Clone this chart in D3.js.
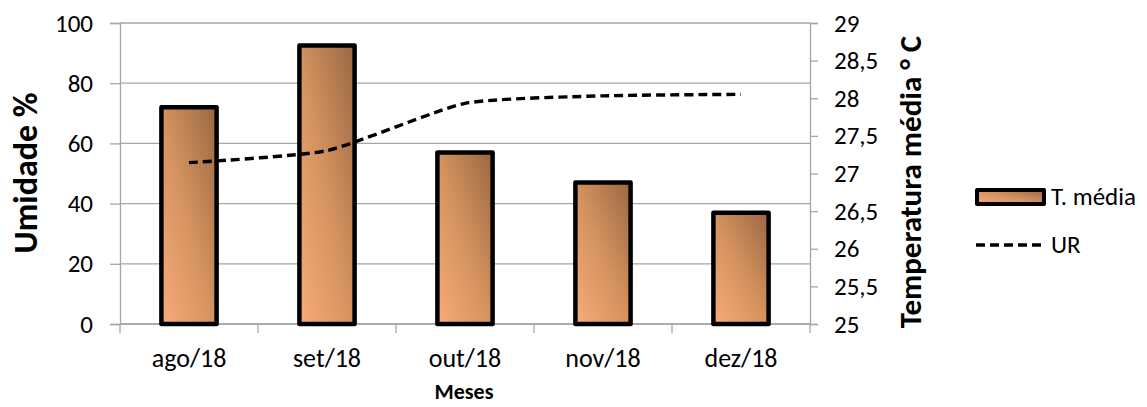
<!DOCTYPE html>
<html>
<head>
<meta charset="utf-8">
<script src="https://cdn.jsdelivr.net/npm/d3@7"></script>
<style>
  html, body { margin: 0; padding: 0; background: #fff; }
  svg { display: block; font-family: Carlito, Calibri, Lato, "Open Sans", sans-serif; }
</style>
</head>
<body>
<svg id="chart" width="1147" height="407"></svg>
<script>
// Monthly data (2018)
const months = ["ago/18", "set/18", "out/18", "nov/18", "dez/18"];
const tMedia = [27.88, 28.7, 27.28, 26.88, 26.48];   // mean temperature, °C (right axis)
const umidade = [53.6, 57.6, 73.3, 75.8, 76.3];       // relative humidity, % (left axis)
const leftTicks = [0, 20, 40, 60, 80, 100];
const rightTicks = [25, 25.5, 26, 26.5, 27, 27.5, 28, 28.5, 29];

const svg = d3.select("#chart");
const plot = { left: 120, right: 810, top: 23, bottom: 324 };
const gridColor = "#a6a6a6";
const tickFont = 25;

const x = d3.scaleBand().domain(months).range([plot.left, plot.right])
  .paddingInner(0.6).paddingOuter(0.3);
const xStep = d3.scaleBand().domain(months).range([plot.left, plot.right]).padding(0);
const yL = d3.scaleLinear().domain([0, 100]).range([plot.bottom, plot.top]);
const yR = d3.scaleLinear().domain([25, 29]).range([plot.bottom, plot.top]);

// Bar gradient
const defs = svg.append("defs");
const grad = defs.append("linearGradient").attr("id", "barFill")
  .attr("x1", 0).attr("y1", 1).attr("x2", 1).attr("y2", 0);
grad.append("stop").attr("offset", "0%").attr("stop-color", "#f8ab7a");
grad.append("stop").attr("offset", "50%").attr("stop-color", "#d3925e");
grad.append("stop").attr("offset", "100%").attr("stop-color", "#996743");

// Horizontal gridlines (left axis)
svg.append("g").selectAll("line").data(leftTicks).join("line")
  .attr("x1", plot.left).attr("x2", plot.right)
  .attr("y1", d => yL(d)).attr("y2", d => yL(d))
  .attr("stroke", gridColor).attr("stroke-width", 1.3);

// Left axis
const gL = svg.append("g").attr("transform", `translate(${plot.left},0)`)
  .call(d3.axisLeft(yL).tickValues(leftTicks).tickSize(10).tickPadding(17));
// Right axis
const gR = svg.append("g").attr("transform", `translate(${plot.right},0)`)
  .call(d3.axisRight(yR).tickValues(rightTicks).tickSize(8).tickPadding(16)
    .tickFormat(d => String(d).replace(".", ",")));
// Bottom axis: ticks at category boundaries
const gB = svg.append("g").attr("transform", `translate(0,${plot.bottom})`);
gB.append("line").attr("x1", plot.left).attr("x2", plot.right)
  .attr("stroke", gridColor).attr("stroke-width", 1.3);
gB.selectAll("line.tk").data(months.concat(["end"])).join("line").attr("class", "tk")
  .attr("x1", (d, i) => i < months.length ? xStep(d) : plot.right)
  .attr("x2", (d, i) => i < months.length ? xStep(d) : plot.right)
  .attr("y1", 0).attr("y2", 9).attr("stroke", gridColor).attr("stroke-width", 1.3);
gB.selectAll("text").data(months).join("text")
  .attr("x", d => x(d) + x.bandwidth() / 2).attr("y", 43)
  .attr("text-anchor", "middle").attr("font-size", 26).attr("fill", "#000").text(d => d);

[gL, gR].forEach(g => {
  g.select(".domain").attr("stroke", gridColor).attr("stroke-width", 1.3);
  g.selectAll(".tick line").attr("stroke", gridColor).attr("stroke-width", 1.3);
  g.selectAll(".tick text").attr("font-size", tickFont).attr("fill", "#000")
    .attr("font-family", "Carlito, Calibri, Lato, sans-serif");
});

// Bars: T. média
svg.append("g").selectAll("rect").data(months).join("rect")
  .attr("x", d => x(d))
  .attr("width", x.bandwidth())
  .attr("y", (d, i) => yR(tMedia[i]))
  .attr("height", (d, i) => yR(25) - yR(tMedia[i]))
  .attr("fill", "url(#barFill)")
  .attr("stroke", "#000").attr("stroke-width", 4.5).attr("stroke-linejoin", "round");

// Line: UR (smoothed, dashed)
const line = d3.line()
  .x((d, i) => x(months[i]) + x.bandwidth() / 2)
  .y(d => yL(d))
  .curve(d3.curveCardinal.tension(0.45));
svg.append("path").datum(umidade).attr("d", line)
  .attr("fill", "none").attr("stroke", "#000").attr("stroke-width", 3.4)
  .attr("stroke-dasharray", "9,5");

// Axis titles
svg.append("text").attr("transform", `translate(37,173) rotate(-90)`)
  .attr("text-anchor", "middle").attr("font-size", 34).attr("font-weight", "bold")
  .text("Umidade %");
svg.append("text").attr("transform", `translate(921,182) rotate(-90)`)
  .attr("text-anchor", "middle").attr("font-size", 31).attr("font-weight", "bold")
  .text("Temperatura média ° C");
svg.append("text").attr("x", 464).attr("y", 399)
  .attr("text-anchor", "middle").attr("font-size", 22).attr("font-weight", "bold")
  .text("Meses");

// Legend
const lg = svg.append("g");
lg.append("rect").attr("x", 977).attr("y", 190).attr("width", 67).attr("height", 14)
  .attr("fill", "url(#barFill)").attr("stroke", "#000").attr("stroke-width", 4)
  .attr("stroke-linejoin", "round");
lg.append("text").attr("x", 1051).attr("y", 205).attr("font-size", 25).text("T. média");
lg.append("line").attr("x1", 976).attr("x2", 1046).attr("y1", 245).attr("y2", 245)
  .attr("stroke", "#000").attr("stroke-width", 3.4).attr("stroke-dasharray", "9,5");
lg.append("text").attr("x", 1051).attr("y", 253).attr("font-size", 25).text("UR");
</script>
</body>
</html>
